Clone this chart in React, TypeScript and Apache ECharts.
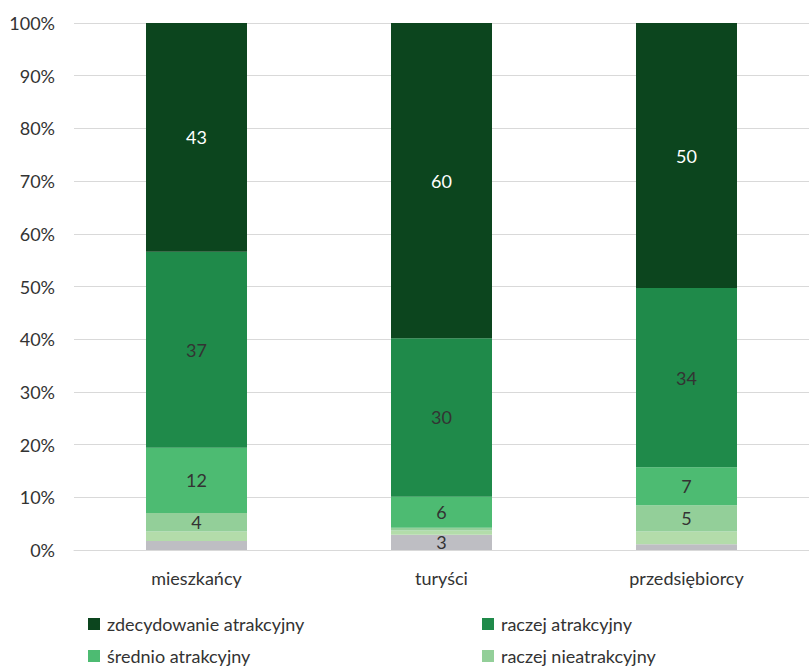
import React, { useEffect, useRef } from "react";
import * as echarts from "echarts";

const categories = ["mieszkańcy", "turyści", "przedsiębiorcy"];
const seriesNames = [
  "zdecydowanie atrakcyjny",
  "raczej atrakcyjny",
  "średnio atrakcyjny",
  "raczej nieatrakcyjny",
  "zdecydowanie nieatrakcyjny",
  "trudno powiedzieć",
];
const zdecydowanieAtrakcyjny = [43.4, 59.8, 50.3];
const raczejAtrakcyjny = [37.2, 30.1, 34.0];
const sredniaAtrakcyjny = [12.4, 5.9, 7.2];
const raczejNieatrakcyjny = [3.5, 0.5, 5.0];
const zdecydowanieNieatrakcyjny = [1.8, 0.8, 2.4];
const trudnoPowiedziec = [1.7, 2.9, 1.1];
const yTicks = ["0%", "10%", "20%", "30%", "40%", "50%", "60%", "70%", "80%", "90%", "100%"];

const colors = ["#0c451e", "#1f8a4a", "#4dbb72", "#93cf99", "#b3dcaa", "#bebec3"];
const labelColors = ["#ffffff", "#333333", "#333333", "#333333", "#333333", "#333333"];

export default function App() {
  const ref = useRef<HTMLDivElement>(null);
  useEffect(() => {
    if (!ref.current) return;
    const chart = echarts.init(ref.current, null, { renderer: "svg" });
    const values = [
      zdecydowanieAtrakcyjny,
      raczejAtrakcyjny,
      sredniaAtrakcyjny,
      raczejNieatrakcyjny,
      zdecydowanieNieatrakcyjny,
      trudnoPowiedziec,
    ];
    const order = [5, 4, 3, 2, 1, 0];
    const font = "Lato, 'Open Sans', sans-serif";
    const legendPos = [
      { left: 88, top: 614 },
      { left: 482, top: 614 },
      { left: 88, top: 646 },
      { left: 482, top: 646 },
    ];
    chart.setOption({
      animation: false,
      textStyle: { fontFamily: font },
      grid: { left: 74, top: 23, width: 747, height: 527, containLabel: false },
      legend: legendPos.map((p, i) => ({
        left: p.left,
        top: p.top,
        padding: 0,
        itemWidth: 12,
        itemHeight: 12,
        itemGap: 8,
        icon: "rect",
        data: [seriesNames[i]],
        textStyle: { fontSize: 18, lineHeight: 20, color: "#333", fontFamily: font, padding: [0, 0, 0, 2] },
      })),
      xAxis: {
        type: "category",
        data: categories,
        axisLine: { lineStyle: { color: "#d9d9d9", width: 1 } },
        axisTick: { show: false },
        axisLabel: { fontSize: 18, color: "#333", margin: 19, fontFamily: font },
      },
      yAxis: {
        type: "value",
        min: 0,
        max: 100,
        interval: 10,
        axisLabel: {
          fontSize: 18,
          color: "#333",
          margin: 19,
          fontFamily: font,
          formatter: (v: number) => yTicks[Math.round(v / 10)],
        },
        splitLine: { lineStyle: { color: "#d9d9d9", width: 1 } },
        axisLine: { show: false },
        axisTick: { show: false },
      },
      series: order.map((i) => ({
        name: seriesNames[i],
        type: "bar",
        stack: "total",
        barWidth: 101,
        data: values[i],
        itemStyle: { color: colors[i] },
        label: {
          show: true,
          position: "inside",
          fontSize: 18,
          color: labelColors[i],
          fontFamily: font,
          formatter: (p: any) => (p.value >= 2.5 ? String(Math.round(p.value)) : ""),
        },
      })),
    });
    return () => chart.dispose();
  }, []);
  return (
    <div
      ref={ref}
      style={{ position: "absolute", left: 0, top: 0, width: 809, height: 668, background: "#fff" }}
    />
  );
}
